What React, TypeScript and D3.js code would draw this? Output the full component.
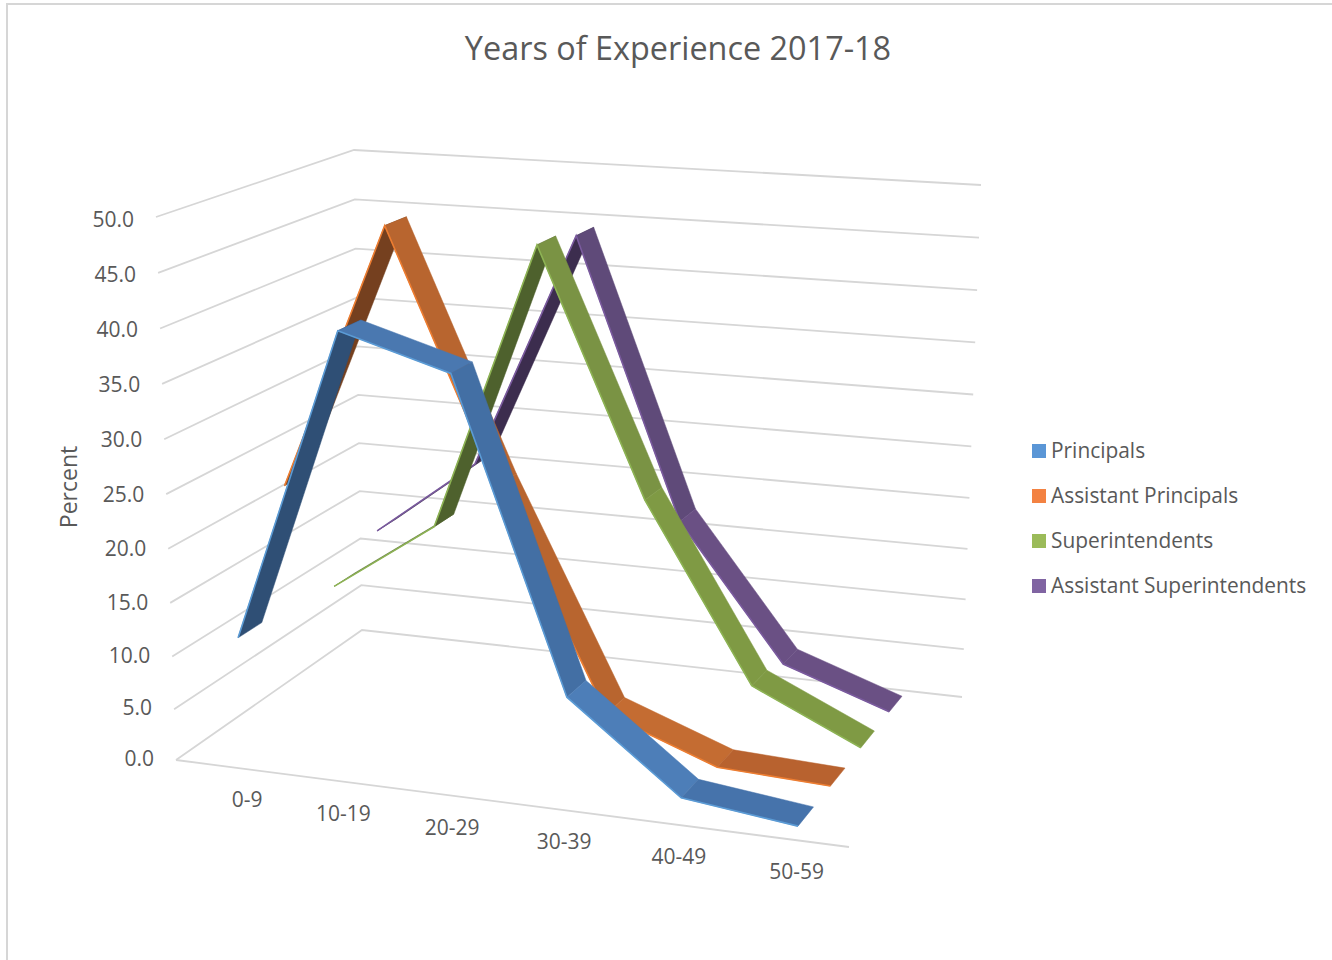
import React from "react";
import * as d3 from "d3";

const title = "Years of Experience 2017-18";
const categories = ["0-9", "10-19", "20-29", "30-39", "40-49", "50-59"];
const valueTicks = [0, 5, 10, 15, 20, 25, 30, 35, 40, 45, 50];
const seriesNames = ["Principals", "Assistant Principals", "Superintendents", "Assistant Superintendents"];
const principals = [11.5, 40.4, 37.4, 9.5, 1.5, 0.2];
const assistantPrincipals = [23, 48, 24.8, 4.6, 0.7, 0.2];
const superintendents = [10.5, 17.4, 45.1, 21.9, 5.2, 0.3];
const assistantSuperintendents = [13.3, 21, 44.2, 17.2, 4.1, 0.4];
const seriesValues = [principals, assistantPrincipals, superintendents, assistantSuperintendents];
const legendColors = ["#5a96d6", "#f38242", "#9bbb59", "#8064a2"];
const edgeColors = ["#5b9bd5", "#ed7d31", "#8db354", "#7a5a9e"];
const risingShades = ["#2f4f75", "#75401f", "#4e612d", "#3c2d4e"];
const segmentShades = [
  ["#2f4f75", "#4a78b0", "#436fa4", "#4d7eb8", "#4673ab"],
  ["#75401f", "#b8652f", "#b8652f", "#c46c32", "#b8622f"],
  ["#7d9642", "#7d9642", "#7a9344", "#7f9a44", "#7f9a44"],
  ["#604a7b", "#604a7b", "#5f4a79", "#6a5084", "#6a5084"],
];

type P = [number, number];
const floorCorners: P[] = [[176, 760], [849, 847], [962, 697], [362, 630]];
const topCorners: P[] = [[156, 217], [866, 264], [981, 185], [354, 150]];

function squareToQuad(q: P[]) {
  const [[x0, y0], [x1, y1], [x2, y2], [x3, y3]] = q;
  const dx1 = x1 - x2, dx2 = x3 - x2, sx = x0 - x1 + x2 - x3;
  const dy1 = y1 - y2, dy2 = y3 - y2, sy = y0 - y1 + y2 - y3;
  const den = dx1 * dy2 - dx2 * dy1;
  const g = (sx * dy2 - dx2 * sy) / den;
  const h = (dx1 * sy - sx * dy1) / den;
  const a = x1 - x0 + g * x1, b = x3 - x0 + h * x3;
  const d = y1 - y0 + g * y1, e = y3 - y0 + h * y3;
  return (u: number, v: number): P => {
    const w = g * u + h * v + 1;
    return [(a * u + b * v + x0) / w, (d * u + e * v + y0) / w];
  };
}

const floorAt = squareToQuad(floorCorners);
const topAt = squareToQuad(topCorners);
const heightScale = d3.scalePow().exponent(1.03).domain([0, 50]).range([0, 1]);
const categoryScale = d3.scaleBand<string>().domain(categories).range([0, 1]);
const seriesScale = d3.scaleBand<string>().domain(seriesNames).range([0, 1]).paddingInner(0.53).paddingOuter(0.265);
const labelDx = d3.scaleLinear().domain([1, 5]).range([34, 26]);
const labelDy = d3.scaleLinear().domain([2, 5]).range([20, 17]).clamp(true);
const valueLabelDy = d3.scaleLinear().domain([0, 50]).range([5.5, 9.5]);

function project(c: number, depth: number, value: number): P {
  const b = floorAt(c, depth);
  const t = topAt(c, depth);
  const f = heightScale(value);
  return [b[0] + (t[0] - b[0]) * f, b[1] + (t[1] - b[1]) * f];
}
const catCenter = (i: number) => categoryScale(categories[i])! + categoryScale.bandwidth() / 2;
const poly = (pts: P[]) => pts.map((p) => p.map((n) => n.toFixed(1)).join(",")).join(" ");
const grid = "#d6d6d6";
const textColor = "#595959";
const font = "'Open Sans', sans-serif";

function Ribbon({ index }: { index: number }) {
  const name = seriesNames[index];
  const d0 = seriesScale(name)!;
  const d1 = d0 + seriesScale.bandwidth();
  const values = seriesValues[index];
  const segs = d3.pairs(values.map((v, i) => ({ v, i })));
  const frontLine = d3.line()(values.map((v, i) => project(catCenter(i), d0, v))) as string;
  return (
    <g>
      {segs.map(([a, b], k) => {
        const rising = b.v > a.v;
        const pts: P[] = [
          project(catCenter(a.i), d0, a.v),
          project(catCenter(b.i), d0, b.v),
          project(catCenter(b.i), d1, b.v),
          project(catCenter(a.i), d1, a.v),
        ];
        const fill = rising ? risingShades[index] : segmentShades[index][k];
        return <polygon key={k} points={poly(pts)} fill={fill} stroke={fill} strokeWidth={0.5} />;
      })}
      <path d={frontLine} fill="none" stroke={edgeColors[index]} strokeWidth={1.6} />
    </g>
  );
}

export default function App() {
  return (
    <svg width={1332} height={960} style={{ position: "absolute", left: 0, top: 0, background: "#fff" }}>
      <path d="M7,960 V4 H1332" fill="none" stroke={grid} strokeWidth={2} />
      <text x={678} y={60} textAnchor="middle" fontFamily={font} fontSize={32.4} fill={textColor}>{title}</text>
      {valueTicks.map((v) => (
        <g key={v}>
          <polyline points={poly([project(0, 0, v), project(0, 1, v), project(1, 1, v)])} fill="none" stroke={grid} strokeWidth={1.8} />
          <text x={project(0, 0, v)[0] - 22} y={project(0, 0, v)[1] + valueLabelDy(v)} textAnchor="end" fontFamily={font} fontSize={21} fill={textColor}>{v.toFixed(1)}</text>
        </g>
      ))}
      <line x1={floorCorners[0][0]} y1={floorCorners[0][1]} x2={floorCorners[1][0]} y2={floorCorners[1][1]} stroke={grid} strokeWidth={1.8} />
      {categories.map((c, i) => {
        const p = project(catCenter(i), -0.13, 0);
        return <text key={c} x={p[0] + (i === 0 ? 46 : labelDx(i))} y={p[1] + labelDy(i)} textAnchor="middle" fontFamily={font} fontSize={21} fill={textColor}>{c}</text>;
      })}
      <text transform="translate(77,487) rotate(-90)" textAnchor="middle" fontFamily={font} fontSize={23} fill={textColor}>Percent</text>
      {[3, 2, 1, 0].map((i) => <Ribbon key={i} index={i} />)}
      {seriesNames.map((s, i) => (
        <g key={s}>
          <rect x={1032} y={444 + i * 45} width={14} height={14} fill={legendColors[i]} />
          <text x={1051} y={458 + i * 45} fontFamily={font} fontSize={20.9} fill={textColor}>{s}</text>
        </g>
      ))}
    </svg>
  );
}
